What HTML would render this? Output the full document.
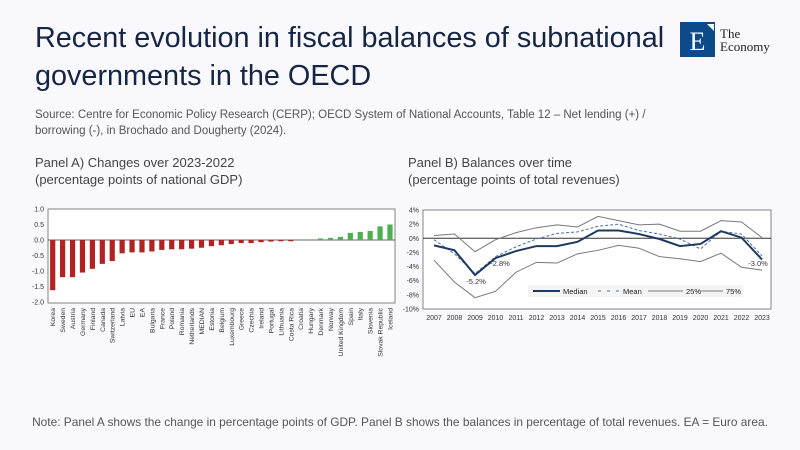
<!DOCTYPE html>
<html><head><meta charset="utf-8"><style>
body{margin:0;background:#f8f8fd;}
svg{display:block}
</style></head><body>
<svg width="800" height="450" xmlns="http://www.w3.org/2000/svg" font-family="Liberation Sans, sans-serif">
<rect width="800" height="450" fill="#f8f8fd"/>
<text x="35" y="47" font-size="28.8" fill="#152544">Recent evolution in fiscal balances of subnational</text>
<text x="35" y="85" font-size="28.8" fill="#152544">governments in the OECD</text>
<rect x="680" y="22" width="35" height="35" fill="#0d4a8a"/>
<text x="697.5" y="50" font-size="26" fill="#fff" font-family="Liberation Serif, serif" text-anchor="middle">E</text>
<polygon points="707,24 714,24 714,31" fill="#fff"/>
<text x="720" y="38" font-size="13" fill="#222" font-family="Liberation Serif, serif">The</text>
<text x="720" y="51" font-size="13" fill="#222" font-family="Liberation Serif, serif">Economy</text>
<text x="35" y="118" font-size="11.5" fill="#555">Source: Centre for Economic Policy Research (CERP); OECD System of National Accounts, Table 12 – Net lending (+) /</text>
<text x="35" y="134" font-size="11.5" fill="#555">borrowing (-), in Brochado and Dougherty (2024).</text>
<text x="35" y="167" font-size="13" fill="#444">Panel A) Changes over 2023-2022</text>
<text x="35" y="184" font-size="13" fill="#444">(percentage points of national GDP)</text>
<text x="408" y="167" font-size="13" fill="#444">Panel B) Balances over time</text>
<text x="408" y="184" font-size="13" fill="#444">(percentage points of total revenues)</text>
<text x="400" y="426" font-size="11.9" fill="#555" text-anchor="middle">Note: Panel A shows the change in percentage points of GDP. Panel B shows the balances in percentage of total revenues. EA = Euro area.</text>
<g id="A"></g>
<g id="B"></g>
</svg>
<script>
var ns="http://www.w3.org/2000/svg";
function el(p,t,a,txt){var e=document.createElementNS(ns,t);for(var k in a)e.setAttribute(k,a[k]);if(txt!=null)e.textContent=txt;p.appendChild(e);return e;}
var A=document.getElementById("A");
el(A,"rect",{x:48,y:209,width:347,height:94,fill:"#fff",stroke:"#666","stroke-width":0.8});
var z=240,u=31;
[1,0.5,0,-0.5,-1,-1.5,-2].forEach(function(v){el(A,"text",{x:44,y:z-v*u+2.5,"font-size":7,"text-anchor":"end",fill:"#333"},v.toFixed(1));});
el(A,"line",{x1:48,x2:395,y1:z,y2:z,stroke:"#333","stroke-width":0.8});
var c=["Korea","Sweden","Austria","Germany","Finland","Canada","Switzerland","Latvia","EU","EA","Bulgaria","France","Poland","Romania","Netherlands","MEDIAN","Estonia","Belgium","Luxembourg","Greece","Czechia","Ireland","Portugal","Lithuania","Costa Rica","Croatia","Hungary","Denmark","Norway","United Kingdom","Spain","Italy","Slovenia","Slovak Republic","Iceland"];
var v=[-1.62,-1.2,-1.2,-1.05,-0.93,-0.77,-0.68,-0.43,-0.4,-0.4,-0.37,-0.32,-0.3,-0.3,-0.28,-0.25,-0.2,-0.17,-0.13,-0.1,-0.1,-0.07,-0.05,-0.04,-0.04,0,0,0.05,0.07,0.1,0.23,0.26,0.29,0.44,0.5];
c.forEach(function(n,i){var x=52.7+i*9.92,h=Math.abs(v[i])*u;
if(h>0)el(A,"rect",{x:x-2.6,y:v[i]<0?z:z-h,width:5.2,height:h,fill:v[i]<0?"#b22222":"#4caf50"});
el(A,"text",{transform:"translate("+(x+2.5)+",308) rotate(-90)","font-size":6.8,"text-anchor":"end",fill:"#333"},n);});
var B=document.getElementById("B");
el(B,"rect",{x:423,y:210,width:348,height:99,fill:"#fff",stroke:"#666","stroke-width":0.8});
var z2=238.3,u2=7.07;
for(var p=4;p>=-10;p-=2)el(B,"text",{x:419,y:z2-p*u2+2.5,"font-size":7,"text-anchor":"end",fill:"#333"},p+"%");
el(B,"line",{x1:423,x2:771,y1:z2,y2:z2,stroke:"#333","stroke-width":1});
for(var i=0;i<17;i++)el(B,"text",{x:434+i*20.5,y:320,"font-size":7,"text-anchor":"middle",fill:"#333"},2007+i);
function line(d,a){var pts=d.map(function(y,i){return (434+i*20.5)+","+(z2-y*u2)}).join(" ");a.points=pts;a.fill="none";el(B,"polyline",a);}
line([-3.1,-6.2,-8.4,-7.5,-4.8,-3.4,-3.5,-2.2,-1.7,-1.0,-1.4,-2.6,-2.9,-3.3,-2.1,-4.1,-4.5],{stroke:"#777","stroke-width":1});
line([0.4,0.6,-1.9,-0.2,0.8,1.5,1.9,1.6,3.1,2.5,1.9,2.0,1.0,1.0,2.5,2.3,0.1],{stroke:"#777","stroke-width":1});
line([-0.2,-2.2,-5,-2.6,-1.2,-0.1,0.7,0.9,1.7,2.0,1.1,0.6,-0.1,-1.5,1.0,0.6,-2.5],{stroke:"#4a6fa5","stroke-width":1,"stroke-dasharray":"3,2"});
line([-1,-1.7,-5.2,-2.8,-1.8,-1.1,-1.1,-0.5,1.1,1.1,0.6,-0.1,-1.1,-0.8,1.0,0.1,-3.0],{stroke:"#1f3a60","stroke-width":2});
el(B,"text",{x:476,y:284,"font-size":7.5,"text-anchor":"middle",fill:"#333"},"-5.2%");
el(B,"text",{x:500,y:266,"font-size":7.5,"text-anchor":"middle",fill:"#333"},"-2.8%");
el(B,"text",{x:758,y:266,"font-size":7.5,"text-anchor":"middle",fill:"#333"},"-3.0%");
el(B,"rect",{x:528,y:285,width:215,height:12,fill:"#f4f4f4"});
el(B,"line",{x1:533,x2:560,y1:291,y2:291,stroke:"#1f3a60","stroke-width":2});
el(B,"text",{x:563,y:294,"font-size":7.5,fill:"#222"},"Median");
el(B,"line",{x1:598,x2:620,y1:291,y2:291,stroke:"#4a6fa5","stroke-width":1,"stroke-dasharray":"3,6"});
el(B,"text",{x:623,y:294,"font-size":7.5,fill:"#222"},"Mean");
el(B,"line",{x1:648,x2:683,y1:291,y2:291,stroke:"#777","stroke-width":1});
el(B,"text",{x:686,y:294,"font-size":7.5,fill:"#222"},"25%");
el(B,"line",{x1:700,x2:723,y1:291,y2:291,stroke:"#777","stroke-width":1});
el(B,"text",{x:726,y:294,"font-size":7.5,fill:"#222"},"75%");
</script>
</body></html>
